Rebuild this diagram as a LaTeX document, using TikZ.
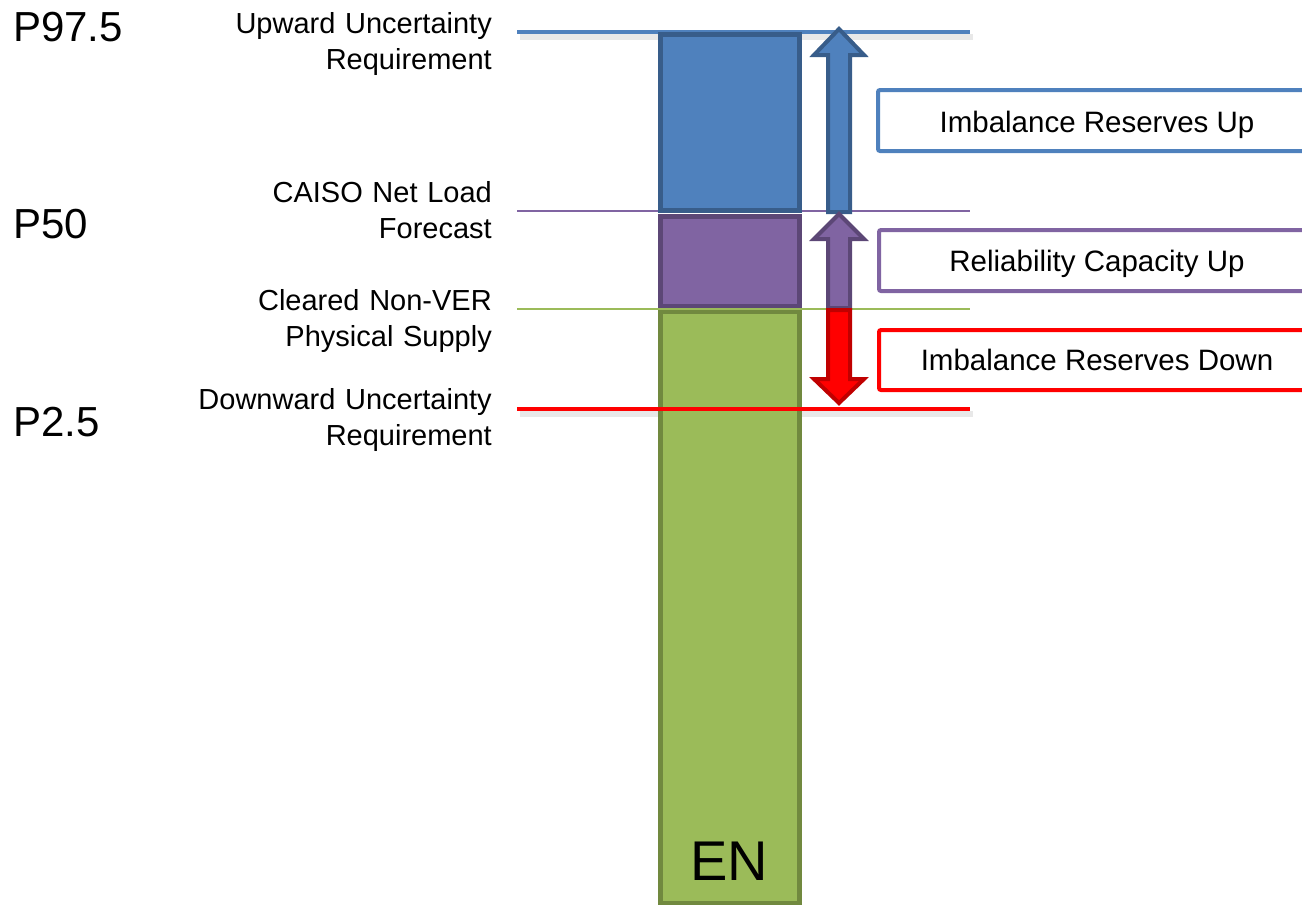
\documentclass[tikz,border=0pt]{standalone}
\usepackage{fontspec}
\setmainfont{Liberation Sans}
\begin{document}
\begin{tikzpicture}[x=1pt,y=-1pt,
  lbl/.style={anchor=base east,inner sep=0pt,text width=330pt,align=right,font=\fontsize{29}{36.5}\selectfont},
  plbl/.style={anchor=base west,inner sep=0pt,font=\fontsize{42}{46}\selectfont},
  boxlbl/.style={font=\fontsize{29.5}{32}\selectfont},
  resbox/.style={draw,line width=4pt,rounded corners=2pt,fill=white},
  barseg/.style={line width=5pt},
  arr/.style={line width=4pt,line join=miter}]
\definecolor{bfill}{HTML}{4F81BD}\definecolor{bdraw}{HTML}{385D8A}
\definecolor{pfill}{HTML}{8064A2}\definecolor{pdraw}{HTML}{5C4776}
\definecolor{gfill}{HTML}{9BBB59}\definecolor{gdraw}{HTML}{71893F}
\definecolor{rfill}{HTML}{FF0000}\definecolor{rdraw}{HTML}{C00000}
\useasboundingbox (0,0) rectangle (1302,905);
% level lines (with shadows for thick ones)
\draw[black!9,line width=6pt] (520,37) -- (973,37);
\draw[black!9,line width=6pt] (520,414) -- (973,414);
\coordinate (tL) at (517,32); \coordinate (tR) at (970,32);
\coordinate (mL) at (517,211); \coordinate (mR) at (970,211);
\coordinate (gL) at (517,309); \coordinate (gR) at (970,309);
\coordinate (dL) at (517,409); \coordinate (dR) at (970,409);
\draw[bfill,line width=4.5pt] (tL) -- (tR);
\draw[pfill,line width=2pt] (mL) -- (mR);
% bars
\draw[barseg,draw=gdraw,fill=gfill] (660,311) rectangle (799,903);
\draw[barseg,draw=pdraw,fill=pfill] (660,216) rectangle (799,306);
\draw[barseg,draw=bdraw,fill=bfill] (660,34) rectangle (799,210);
\draw[gfill,line width=2pt] (gL) -- (gR);
\draw[rfill,line width=4.5pt] (dL) -- (dR);
\node[font=\fontsize{56}{60}\selectfont,inner sep=0pt,anchor=base] (en) at (729,880) {EN};
% arrows
\draw[arr,draw=bdraw,fill=bfill] (839,29) -- (864,55) -- (850,55) -- (850,212) -- (828,212) -- (828,55) -- (814,55) -- cycle;
\draw[arr,draw=pdraw,fill=pfill] (839,214) -- (864,239) -- (850,239) -- (850,308) -- (828,308) -- (828,239) -- (814,239) -- cycle;
\draw[arr,draw=rdraw,fill=rfill] (828,310) -- (850,310) -- (850,379) -- (864,379) -- (839,403) -- (814,379) -- (828,379) -- cycle;
% reserve boxes
\draw[resbox,draw=bfill] (878,90) rectangle (1320,151);
\draw[resbox,draw=pfill] (879,230) rectangle (1320,291);
\draw[resbox,draw=rfill] (879,330) rectangle (1320,390);
\node[boxlbl,anchor=base] (iru) at (1097,132) {Imbalance Reserves Up};
\node[boxlbl,anchor=base] (rcu) at (1097,271) {Reliability Capacity Up};
\node[boxlbl,anchor=base] (ird) at (1097,370) {Imbalance Reserves Down};
% left labels
\node[lbl] (uur) at (492,33) {Upward Uncertainty\\Requirement};
\node[lbl] (nlf) at (492,202) {CAISO Net Load\\Forecast};
\node[lbl] (nvs) at (492,310) {Cleared Non-VER\\Physical Supply};
\node[lbl] (dur) at (492,409) {Downward Uncertainty\\Requirement};
\node[plbl] (p975) at (13,41) {P97.5};
\node[plbl] (p50) at (13,238) {P50};
\node[plbl] (p25) at (13,436) {P2.5};
\end{tikzpicture}
\end{document}
